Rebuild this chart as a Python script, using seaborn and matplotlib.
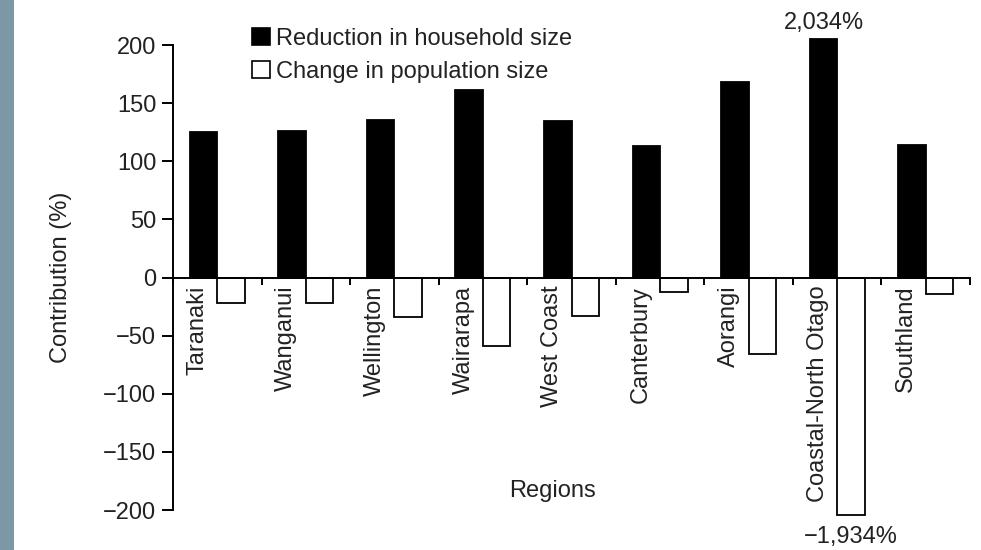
import numpy as np
import pandas as pd
import matplotlib
matplotlib.use("Agg")
import matplotlib.pyplot as plt
from matplotlib.patches import Patch, Rectangle
import seaborn as sns

regions = ["Taranaki", "Wanganui", "Wellington", "Wairarapa", "West Coast",
           "Canterbury", "Aorangi", "Coastal-North Otago", "Southland"]
household = [125, 126, 136, 161, 135, 113, 168, 2034, 114]
population = [-22, -22, -34, -59, -33, -12, -66, -1934, -14]
series = ["Reduction in household size", "Change in population size"]
yticks = [-200, -150, -100, -50, 0, 50, 100, 150, 200]

TXT = "#222222"
FS = 17
# axis is broken: values beyond these are drawn as stubs
CAP_LO, CAP_HI = -204, 205


def main():
    sns.set_theme(style="white")
    plt.rcParams["font.family"] = ["Liberation Sans", "DejaVu Sans"]

    values = np.clip(household + population, CAP_LO, CAP_HI)
    df = pd.DataFrame({
        "region": regions * 2,
        "series": [series[0]] * len(regions) + [series[1]] * len(regions),
        "value": values,
    })

    fig = plt.figure(figsize=(9.81, 5.5), dpi=100)
    fig.patches.append(Rectangle((0, 0), 14 / 981, 1, transform=fig.transFigure,
                                 facecolor="#7b98a4", edgecolor="none", zorder=-1))
    ax = fig.add_axes([173 / 981, 1 - 517 / 550, (970 - 173) / 981, (517 - 37) / 550])

    sns.barplot(data=df, x="region", y="value", hue="series", order=regions,
                hue_order=series, palette={series[0]: "black", series[1]: "white"},
                width=0.62, gap=0, edgecolor="black", linewidth=1.3,
                legend=False, ax=ax, zorder=2)

    ax.set_xlim(-0.5, len(regions) - 0.5)
    ax.set_ylim(-206, 207)

    for s in ["top", "right"]:
        ax.spines[s].set_visible(False)
    ax.spines["left"].set_bounds(-200, 200)
    ax.spines["bottom"].set_position(("data", 0))
    for s in ["left", "bottom"]:
        ax.spines[s].set_linewidth(1.4)
        ax.spines[s].set_color("black")
        ax.spines[s].set_zorder(3)

    ax.set_yticks(yticks)
    ax.set_yticklabels([f"{v}".replace("-", "\u2212") for v in yticks])
    ax.tick_params(axis="y", direction="out", length=8, width=1.4, pad=4,
                   labelsize=FS, labelcolor=TXT, left=True, color="black")

    ax.set_xticks(np.arange(-0.5, len(regions)))
    ax.set_xticklabels([])
    ax.tick_params(axis="x", direction="out", length=5, width=1.4, bottom=True,
                   color="black")
    ax.set_xlabel("")
    ax.set_ylabel("Contribution (%)", fontsize=FS, color=TXT)
    ax.yaxis.set_label_coords(-0.127, 0.5)

    for i, name in enumerate(regions):
        ax.text(i - 0.22, -7, name, rotation=90, ha="center", va="top",
                fontsize=FS, color=TXT)

    ax.text(3.78, -184, "Regions", ha="center", va="center", fontsize=FS, color=TXT)

    # true values of the off-scale bars
    k = regions.index("Coastal-North Otago")
    ax.text(k - 0.155, 210, f"{household[k]:,}%", ha="center", va="bottom",
            fontsize=FS, color=TXT, clip_on=False)
    ax.text(k + 0.155, -214, f"{population[k]:,}%".replace("-", "\u2212"),
            ha="center", va="top", fontsize=FS, color=TXT, clip_on=False)

    handles = [Patch(facecolor="black", edgecolor="black", linewidth=1.2),
               Patch(facecolor="white", edgecolor="black", linewidth=1.2)]
    leg = fig.legend(handles, series, loc="upper left",
                     bbox_to_anchor=(252 / 981, 1 - 28 / 550), frameon=False,
                     fontsize=FS, handlelength=0.75, handleheight=0.75,
                     handletextpad=0.25, labelspacing=0.45, borderpad=0,
                     borderaxespad=0)
    for t in leg.get_texts():
        t.set_color(TXT)

    fig.savefig("out.png", dpi=100)
    plt.close(fig)


if __name__ == "__main__":
    main()
